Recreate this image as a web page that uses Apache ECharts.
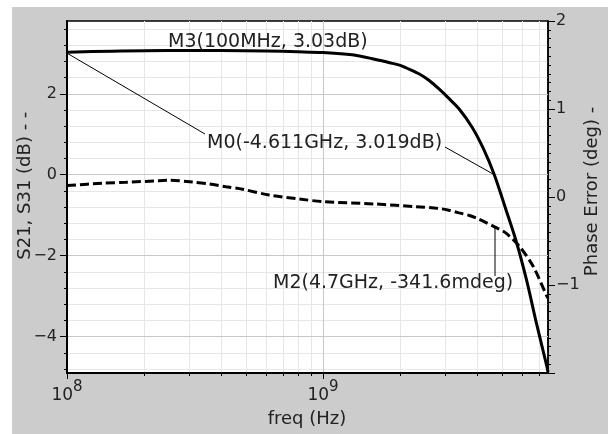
<!DOCTYPE html>
<html>
<head>
<meta charset="utf-8">
<script src="https://cdn.jsdelivr.net/npm/echarts@6/dist/echarts.min.js"></script>
<style>
  html, body { margin: 0; padding: 0; background: #fff; }
  #chart { width: 608px; height: 434px; }
</style>
</head>
<body>
<div id="chart"></div>
<script>
// S21, S31 magnitude (dB) -> left axis, solid
const magFreq = [1e8, 1.5e8, 2.5e8, 4e8, 6e8, 8e8, 1e9, 1.27e9, 1.45e9, 1.66e9, 1.82e9, 1.99e9,
  2.17e9, 2.38e9, 2.6e9, 2.84e9, 3.11e9, 3.41e9, 3.83e9, 4.23e9, 4.67e9, 5.19e9, 5.69e9,
  6.24e9, 6.84e9, 7.5e9, 7.57e9];
const magDb = [3.03, 3.055, 3.07, 3.07, 3.06, 3.04, 3.02, 2.97, 2.91, 2.83, 2.77, 2.71,
  2.61, 2.49, 2.33, 2.12, 1.88, 1.62, 1.17, 0.65, 0.0, -0.87, -1.65,
  -2.6, -3.7, -4.75, -4.88];

// phase error (deg) -> right axis, dashed
const phaseFreq = [1e8, 1.38e8, 1.7e8, 2.3e8, 2.51e8, 3.09e8, 3.6e8, 4.18e8, 4.85e8, 6.16e8, 8.09e8,
  1e9, 1.61e9, 2.31e9, 2.83e9, 3.1e9, 3.4e9, 3.73e9, 4.05e9, 4.7e9, 5.19e9, 5.87e9, 6.63e9, 7.5e9, 7.57e9];
const phaseDeg = [0.13, 0.156, 0.167, 0.185, 0.19, 0.17, 0.148, 0.117, 0.088, 0.023, -0.023,
  -0.053, -0.08, -0.11, -0.13, -0.15, -0.18, -0.21, -0.25, -0.3416, -0.41, -0.565, -0.79, -1.13, -1.15];

// axis ticks
const freqMajorTicks = [1e8, 1e9];
const freqMinorTicks = [2e8, 3e8, 4e8, 5e8, 6e8, 7e8, 8e8, 9e8, 2e9, 3e9, 4e9, 5e9, 6e9, 7e9];
const dbMajorTicks = [-4, -2, 0, 2];
const dbMinorTicks = [-4.8, -4.4, -3.6, -3.2, -2.8, -2.4, -1.6, -1.2, -0.8, -0.4,
  0.4, 0.8, 1.2, 1.6, 2.4, 2.8, 3.2, 3.6];
const degTickLabels = [-1, 0, 1, 2];

// markers
const m3Point = [1e8, 3.03];
const m0Point = [4.67e9, 0];
const m2Point = [4.7e9, -0.3416];
const m3Label = 'M3(100MHz, 3.03dB)';
const m0Label = 'M0(-4.611GHz, 3.019dB)';
const m2Label = 'M2(4.7GHz, -341.6mdeg)';

const FONT = '"DejaVu Sans", Verdana, sans-serif';
const INK = '#222';

function signed(v) {
  return v < 0 ? '\u2212' + Math.abs(v) : String(v);
}

const chart = echarts.init(document.getElementById('chart'));

chart.setOption({
  animation: false,
  backgroundColor: '#fff',
  grid: {
    left: 67, top: 21, width: 481, height: 352,
    show: true, backgroundColor: '#fff', borderColor: '#000', borderWidth: 1.5
  },
  xAxis: [
    {
      type: 'log', min: 1e8, max: 7.57e9, position: 'bottom', z: 1,
      axisLine: { onZero: false, lineStyle: { color: '#000', width: 2 } },
      axisTick: { length: 6, customValues: freqMajorTicks, lineStyle: { color: '#000' } },
      axisLabel: {
        customValues: freqMajorTicks, margin: 6,
        formatter: v => '{b|10}{s|' + Math.round(Math.log10(v)) + '}',
        rich: {
          b: { fontSize: 17, fontFamily: FONT, color: INK, padding: [8, 0, 0, 0] },
          s: { fontSize: 15, fontFamily: FONT, color: INK, padding: [0, 0, 8, 0] }
        }
      },
      splitLine: { show: true, lineStyle: { color: '#c8c8c8', width: 1 } }
    },
    {
      type: 'log', min: 1e8, max: 7.57e9, position: 'bottom', z: 0,
      axisLine: { show: false, onZero: false },
      axisTick: { length: 3, customValues: freqMinorTicks, lineStyle: { color: '#000' } },
      axisLabel: { show: false },
      splitLine: { show: true, lineStyle: { color: '#e6e6e6', width: 1 } }
    }
  ],
  yAxis: [
    {
      type: 'value', position: 'left', min: -4.9, max: 3.8, z: 1,
      axisLine: { show: true, onZero: false, lineStyle: { color: '#000', width: 2 } },
      axisTick: { show: true, length: 7, customValues: dbMajorTicks, lineStyle: { color: '#000' } },
      axisLabel: {
        customValues: dbMajorTicks, margin: 10, formatter: signed,
        color: INK, fontSize: 16, fontFamily: FONT
      },
      splitLine: { show: true, lineStyle: { color: '#c8c8c8', width: 1 } }
    },
    {
      type: 'value', position: 'left', min: -4.9, max: 3.8, z: 0,
      axisLine: { show: false, onZero: false },
      axisTick: { show: true, length: 3, customValues: dbMinorTicks, lineStyle: { color: '#000' } },
      axisLabel: { show: false },
      splitLine: { show: true, lineStyle: { color: '#e6e6e6', width: 1 } }
    },
    {
      type: 'value', position: 'right', min: -2, max: 2, interval: 1,
      axisLine: { show: true, onZero: false, lineStyle: { color: '#000', width: 1.5 } },
      axisTick: { show: true, length: 7, lineStyle: { color: '#000' } },
      minorTick: { show: true, splitNumber: 10, length: 3, lineStyle: { color: '#000' } },
      axisLabel: {
        customValues: degTickLabels, margin: 8, formatter: signed,
        color: INK, fontSize: 16, fontFamily: FONT
      },
      splitLine: { show: false }
    }
  ],
  series: [
    {
      name: 'S21, S31', type: 'line', xAxisIndex: 0, yAxisIndex: 0,
      data: magFreq.map((f, i) => [f, magDb[i]]),
      showSymbol: false, smooth: 0.3,
      lineStyle: { color: '#000', width: 3 }
    },
    {
      name: 'Phase Error', type: 'line', xAxisIndex: 0, yAxisIndex: 2,
      data: phaseFreq.map((f, i) => [f, phaseDeg[i]]),
      showSymbol: false, smooth: 0.3,
      lineStyle: { color: '#000', width: 3, type: [9, 4] }
    }
  ]
});

// marker labels, leader lines and axis titles
const p3 = chart.convertToPixel({ seriesIndex: 0 }, m3Point);
const p0 = chart.convertToPixel({ seriesIndex: 0 }, m0Point);
const p2 = chart.convertToPixel({ seriesIndex: 1 }, m2Point);

function label(text, x, y, size, rot) {
  return {
    type: 'text', x: x, y: y, rotation: rot || 0, z: 10,
    style: {
      text: text, font: size + 'px ' + FONT, fill: INK,
      textAlign: rot ? 'center' : 'left', textVerticalAlign: 'middle'
    }
  };
}
function leader(x1, y1, x2, y2) {
  return {
    type: 'line', z: 10,
    shape: { x1: x1, y1: y1, x2: x2, y2: y2 },
    style: { stroke: '#000', lineWidth: 1 }
  };
}

const freqTitle = label('freq (Hz)', 307, 419, 18);
freqTitle.style.textAlign = 'center';

chart.setOption({
  graphic: [
    { type: 'rect', z: -100, shape: { x: 12, y: 7, width: 596, height: 427 }, style: { fill: '#cccccc' } },
    label(m3Label, 168, 42, 19),
    leader(p3[0], p3[1], 168, 50),
    label(m0Label, 207, 143.5, 19),
    leader(p3[0], p3[1] + 1, 205, 134),
    leader(445, 147, p0[0], p0[1]),
    label(m2Label, 273, 283.5, 19),
    leader(p2[0], p2[1], p2[0], 276),
    label('S21, S31 (dB) - -', 25, 185.7, 18, Math.PI / 2),
    label('Phase Error (deg) -', 592, 191.5, 18, Math.PI / 2),
    freqTitle
  ]
});
</script>
</body>
</html>
